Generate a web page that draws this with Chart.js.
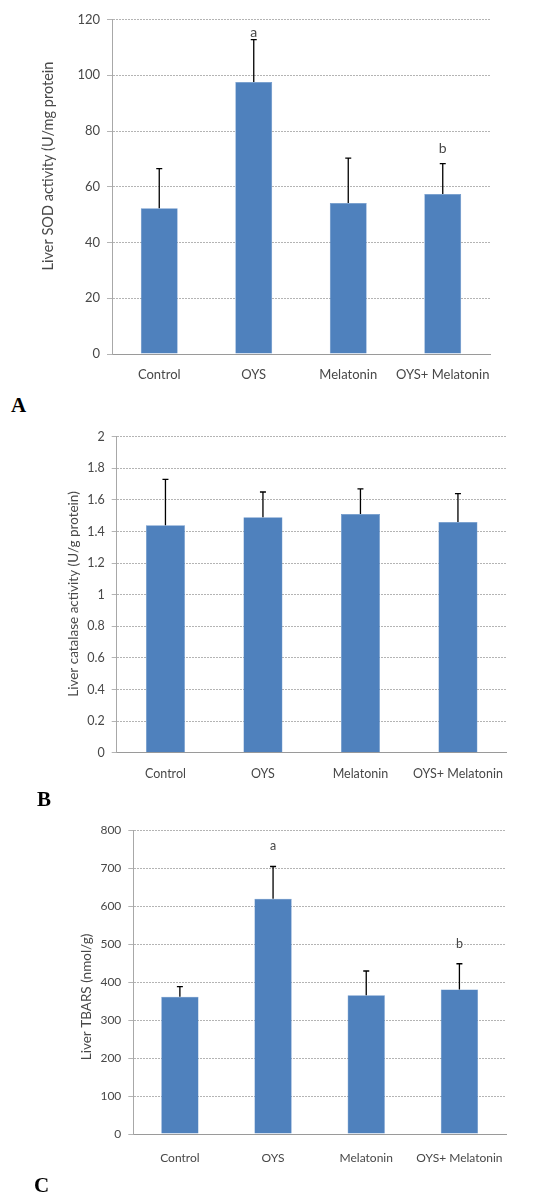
<!DOCTYPE html>
<html>
<head>
<meta charset="utf-8">
<script src="https://cdn.jsdelivr.net/npm/chart.js@4.4.0/dist/chart.umd.min.js"></script>
<style>
  body { margin: 0; background: #fff; width: 540px; height: 1194px; position: relative; overflow: hidden; }
  canvas { position: absolute; left: 0; }
  .painel { position: absolute; font-family: "Liberation Serif", serif; font-weight: bold; font-size: 21px; line-height: 21px; color: #000; }
</style>
</head>
<body>
<canvas id="graficoSOD" width="540" height="390" style="top:0"></canvas>
<div class="painel" style="left:11px;top:395px">A</div>
<canvas id="graficoCatalase" width="540" height="370" style="top:420px"></canvas>
<div class="painel" style="left:37px;top:789px">B</div>
<canvas id="graficoTBARS" width="540" height="360" style="top:815px"></canvas>
<div class="painel" style="left:34px;top:1175px">C</div>

<script>
// categorias (eixo x)
const categorias = ['Control', 'OYS', 'Melatonin', 'OYS+ Melatonin'];

// A - SOD
const sodMedia = [52.3, 97.6, 54.2, 57.4];
const sodErro = [14.2, 15.2, 16.1, 10.9];
const sodLetras = ['', 'a', '', 'b'];
const sodPosLetras = [null, 115.5, null, 73.7];
const sodTicks = { min: 0, max: 120, step: 20 };

// B - catalase
const catMedia = [1.44, 1.49, 1.51, 1.46];
const catErro = [0.29, 0.16, 0.16, 0.18];
const catLetras = ['', '', '', ''];
const catPosLetras = [null, null, null, null];
const catTicks = { min: 0, max: 2, step: 0.2 };

// C - TBARS
const tbarsMedia = [361, 619, 365, 380];
const tbarsErro = [27, 85, 64, 68];
const tbarsLetras = ['', 'a', '', 'b'];
const tbarsPosLetras = [null, 758, null, 500];
const tbarsTicks = { min: 0, max: 800, step: 100 };

const corBarra = '#4F81BD';
const corTexto = '#484848';

// Plugin: barras de erro (só para cima) + letras de significância
const pluginBarrasErro = {
  id: 'barrasErro',
  afterDatasetsDraw(chart, args, opts) {
    const ctx = chart.ctx;
    const y = chart.scales.y;
    const meta = chart.getDatasetMeta(0);
    ctx.save();
    ctx.strokeStyle = '#000';
    ctx.lineWidth = 1.3;
    meta.data.forEach((barra, i) => {
      const topo = y.getPixelForValue(opts.medias[i] + opts.erros[i]);
      ctx.beginPath();
      ctx.moveTo(barra.x, barra.y);
      ctx.lineTo(barra.x, topo);
      ctx.moveTo(barra.x - 3, topo);
      ctx.lineTo(barra.x + 3, topo);
      ctx.stroke();
      if (opts.letras[i]) {
        ctx.fillStyle = corTexto;
        ctx.font = opts.fonteLetra + 'px Lato';
        ctx.textAlign = 'center';
        ctx.textBaseline = 'middle';
        ctx.fillText(opts.letras[i], barra.x, y.getPixelForValue(opts.posLetras[i]));
      }
    });
    ctx.restore();
  }
};

// Plugin: título do eixo y em posição fixa
const pluginTituloY = {
  id: 'tituloY',
  afterDraw(chart, args, opts) {
    const ctx = chart.ctx;
    ctx.save();
    ctx.translate(opts.x, opts.y);
    ctx.rotate(-Math.PI / 2);
    ctx.fillStyle = corTexto;
    ctx.font = opts.tamanho + 'px Lato';
    ctx.textAlign = 'center';
    ctx.textBaseline = 'middle';
    ctx.fillText(opts.texto, 0, 0);
    ctx.restore();
  }
};

function gerarGrafico(id, medias, erros, letras, posLetras, ticks, c) {
  const ctx = document.getElementById(id).getContext('2d');
  new Chart(ctx, {
    type: 'bar',
    data: {
      labels: categorias,
      datasets: [{
        data: medias,
        backgroundColor: corBarra,
        borderColor: '#5A8AC6',
        borderWidth: 0.5,
        barPercentage: c.barra,
        categoryPercentage: 1
      }]
    },
    options: {
      responsive: false,
      animation: false,
      events: [],
      layout: { padding: { top: c.topo, right: c.direita, left: 0, bottom: 0 } },
      plugins: {
        legend: { display: false },
        tooltip: { enabled: false },
        barrasErro: { medias: medias, erros: erros, letras: letras, posLetras: posLetras, fonteLetra: c.fonteLetra },
        tituloY: { texto: c.titulo, x: c.tituloX, y: c.tituloCY, tamanho: c.fonteTitulo }
      },
      scales: {
        x: {
          afterFit: s => { s.height = c.alturaX; },
          grid: { display: false, drawTicks: false },
          border: { display: true, color: '#9a9a9a', width: 1 },
          ticks: {
            color: corTexto,
            font: { family: 'Lato', size: c.fonteTick },
            padding: c.padX,
            maxRotation: 0,
            autoSkip: false
          }
        },
        y: {
          min: ticks.min,
          max: ticks.max,
          afterFit: s => { s.width = c.larguraY; },
          grid: { color: '#b4b4b4', lineWidth: 1, tickLength: 5, drawTicks: true },
          border: { display: true, color: '#a8a8a8', width: 1, dash: [2, 1] },
          ticks: {
            stepSize: ticks.step,
            color: corTexto,
            font: { family: 'Lato', size: c.fonteTick },
            padding: 7,
            callback: v => Math.round(v * 10) / 10
          }
        }
      }
    },
    plugins: [pluginBarrasErro, pluginTituloY]
  });
}

gerarGrafico('graficoSOD', sodMedia, sodErro, sodLetras, sodPosLetras, sodTicks, {
  barra: 0.39, topo: 19.5, direita: 50, alturaX: 36, larguraY: 112, padX: 13,
  fonteTick: 13, fonteLetra: 14, titulo: 'Liver SOD activity (U/mg protein',
  tituloX: 48, tituloCY: 166, fonteTitulo: 14.5
});

gerarGrafico('graficoCatalase', catMedia, catErro, catLetras, catPosLetras, catTicks, {
  barra: 0.4, topo: 16.7, direita: 33.3, alturaX: 37.3, larguraY: 116.7, padX: 14,
  fonteTick: 12.5, fonteLetra: 13, titulo: 'Liver catalase activity (U/g protein)',
  tituloX: 73.5, tituloCY: 174, fonteTitulo: 13.5
});

gerarGrafico('graficoTBARS', tbarsMedia, tbarsErro, tbarsLetras, tbarsPosLetras, tbarsTicks, {
  barra: 0.4, topo: 15, direita: 34, alturaX: 41, larguraY: 133.3, padX: 17,
  fonteTick: 12, fonteLetra: 12.5, titulo: 'Liver TBARS (nmol/g)',
  tituloX: 87, tituloCY: 182, fonteTitulo: 13.5
});
</script>
</body>
</html>
